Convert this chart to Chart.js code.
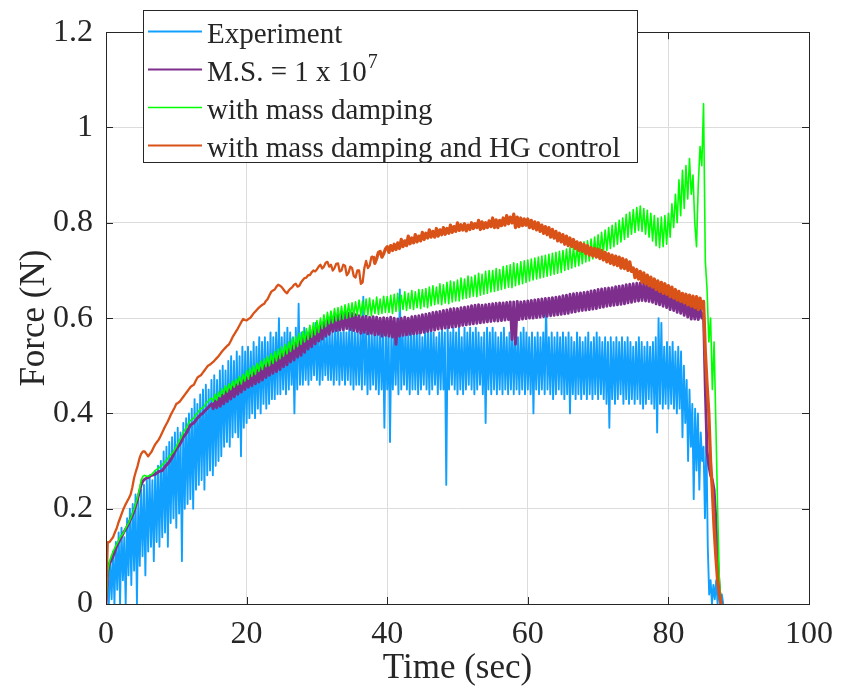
<!DOCTYPE html>
<html>
<head>
<meta charset="utf-8">
<title>Force (N) vs Time (sec)</title>
<script src="https://cdn.jsdelivr.net/npm/chart.js@4.4.0/dist/chart.umd.min.js"></script>
<style>
  body { margin: 0; background: #fff; }
  canvas { display: block; }
</style>
</head>
<body>
<canvas id="forceChart" width="844" height="698"></canvas>
<script>
// sample spacing of each record (sec)
const expStep = 0.2;
const simStep = 0.25;

const seriesLabels = ['Experiment', 'M.S. = 1 x 10^7', 'with mass damping', 'with mass damping and HG control'];
const seriesColors = ['#12a0ff', '#7e2f8e', '#00ff00', '#d95319'];
const seriesWidths = [1.9, 2.9, 1.6, 2.3];

const xTicks = [0, 20, 40, 60, 80, 100];
const yTicks = [0, 0.2, 0.4, 0.6, 0.8, 1, 1.2];

// measured force, one row per 4 s
const experiment = [
  0.02, 0.05, 0.00, 0.09, 0.01, 0.11, 0.00, 0.13, 0.03, 0.15, 0.00, 0.16, 0.05, 0.14, 0.00, 0.18, 0.06, 0.20, 0.04, 0.21,
  0.07, 0.23, 0.00, 0.22, 0.08, 0.24, 0.10, 0.25, 0.06, 0.26, 0.11, 0.27, 0.12, 0.26, 0.09, 0.28, 0.13, 0.29, 0.12, 0.30,
  0.14, 0.32, 0.15, 0.33, 0.12, 0.34, 0.17, 0.35, 0.18, 0.36, 0.16, 0.37, 0.19, 0.36, 0.09, 0.38, 0.20, 0.39, 0.21, 0.40,
  0.22, 0.41, 0.20, 0.43, 0.24, 0.42, 0.25, 0.44, 0.26, 0.45, 0.24, 0.46, 0.27, 0.45, 0.28, 0.47, 0.27, 0.48, 0.29, 0.47,
  0.30, 0.49, 0.31, 0.50, 0.33, 0.49, 0.34, 0.51, 0.33, 0.52, 0.35, 0.51, 0.36, 0.53, 0.35, 0.52, 0.31, 0.54, 0.37, 0.53,
  0.38, 0.54, 0.39, 0.53, 0.40, 0.55, 0.39, 0.54, 0.41, 0.56, 0.40, 0.55, 0.42, 0.56, 0.41, 0.55, 0.42, 0.57, 0.43, 0.56,
  0.43, 0.57, 0.44, 0.60, 0.44, 0.56, 0.45, 0.57, 0.44, 0.58, 0.45, 0.57, 0.46, 0.56, 0.40, 0.58, 0.45, 0.63, 0.46, 0.57,
  0.46, 0.58, 0.47, 0.57, 0.46, 0.58, 0.47, 0.57, 0.48, 0.59, 0.47, 0.58, 0.46, 0.57, 0.47, 0.58, 0.48, 0.57, 0.47, 0.58,
  0.47, 0.57, 0.46, 0.58, 0.47, 0.59, 0.46, 0.57, 0.47, 0.58, 0.46, 0.57, 0.47, 0.58, 0.46, 0.59, 0.45, 0.57, 0.46, 0.58,
  0.46, 0.57, 0.45, 0.645, 0.46, 0.57, 0.44, 0.58, 0.45, 0.57, 0.46, 0.58, 0.45, 0.57, 0.44, 0.58, 0.45, 0.57, 0.37, 0.58,
  0.45, 0.57, 0.34, 0.58, 0.45, 0.57, 0.46, 0.58, 0.44, 0.66, 0.45, 0.57, 0.46, 0.58, 0.45, 0.57, 0.44, 0.58, 0.45, 0.57,
  0.45, 0.58, 0.44, 0.57, 0.45, 0.56, 0.46, 0.58, 0.45, 0.57, 0.44, 0.58, 0.45, 0.57, 0.46, 0.56, 0.44, 0.57, 0.45, 0.58,
  0.45, 0.57, 0.25, 0.58, 0.45, 0.57, 0.46, 0.58, 0.45, 0.57, 0.44, 0.58, 0.45, 0.56, 0.44, 0.58, 0.45, 0.57, 0.46, 0.58,
  0.45, 0.57, 0.44, 0.58, 0.45, 0.57, 0.46, 0.56, 0.44, 0.57, 0.38, 0.58, 0.45, 0.57, 0.44, 0.58, 0.45, 0.57, 0.44, 0.56,
  0.45, 0.57, 0.44, 0.58, 0.45, 0.56, 0.44, 0.57, 0.45, 0.58, 0.44, 0.57, 0.45, 0.56, 0.44, 0.57, 0.45, 0.58, 0.44, 0.57,
  0.45, 0.56, 0.44, 0.57, 0.40, 0.56, 0.45, 0.57, 0.44, 0.56, 0.45, 0.57, 0.44, 0.63, 0.45, 0.56, 0.44, 0.57, 0.43, 0.56,
  0.44, 0.57, 0.45, 0.56, 0.44, 0.57, 0.43, 0.56, 0.44, 0.57, 0.40, 0.56, 0.44, 0.55, 0.43, 0.57, 0.44, 0.56, 0.43, 0.55,
  0.44, 0.56, 0.43, 0.57, 0.44, 0.55, 0.43, 0.56, 0.44, 0.57, 0.43, 0.56, 0.44, 0.55, 0.43, 0.56, 0.42, 0.55, 0.37, 0.56,
  0.43, 0.55, 0.42, 0.56, 0.43, 0.55, 0.44, 0.56, 0.42, 0.55, 0.43, 0.56, 0.42, 0.55, 0.43, 0.54, 0.42, 0.55, 0.43, 0.56,
  0.42, 0.55, 0.41, 0.54, 0.42, 0.55, 0.43, 0.54, 0.42, 0.55, 0.41, 0.56, 0.36, 0.60, 0.42, 0.59, 0.41, 0.54, 0.42, 0.55,
  0.41, 0.54, 0.42, 0.55, 0.41, 0.53, 0.40, 0.54, 0.41, 0.53, 0.35, 0.50, 0.38, 0.47, 0.30, 0.45, 0.33, 0.42, 0.22, 0.41,
  0.28, 0.40, 0.24, 0.36, 0.30, 0.33, 0.18, 0.35, 0.12, 0.02, 0.05, 0.00, 0.04, 0.01, 0.05, 0.00, 0.03, 0.00, 0.02, 0.00
];

// M.S. = 1e7, one row per 5 s
const massScaling = [
  0.00, 0.07, 0.085, 0.092, 0.10, 0.11, 0.12, 0.128, 0.135, 0.142, 0.15, 0.156, 0.162, 0.17, 0.178, 0.186, 0.195, 0.208, 0.22, 0.235,
  0.25, 0.258, 0.262, 0.264, 0.265, 0.268, 0.27, 0.271, 0.272, 0.275, 0.278, 0.279, 0.28, 0.285, 0.29, 0.294, 0.298, 0.304, 0.31, 0.318,
  0.325, 0.33, 0.335, 0.342, 0.35, 0.355, 0.36, 0.368, 0.375, 0.378, 0.38, 0.385, 0.39, 0.394, 0.398, 0.40, 0.405, 0.408, 0.412, 0.416,
  0.42, 0.41, 0.426, 0.412, 0.432, 0.415, 0.438, 0.42, 0.445, 0.425, 0.45, 0.43, 0.455, 0.435, 0.46, 0.44, 0.465, 0.445, 0.47, 0.45,
  0.475, 0.455, 0.48, 0.458, 0.485, 0.462, 0.49, 0.466, 0.495, 0.47, 0.50, 0.475, 0.505, 0.48, 0.51, 0.484, 0.515, 0.488, 0.52, 0.492,
  0.525, 0.498, 0.53, 0.502, 0.535, 0.508, 0.542, 0.512, 0.548, 0.518, 0.552, 0.522, 0.558, 0.528, 0.564, 0.535, 0.57, 0.54, 0.575, 0.546,
  0.58, 0.552, 0.586, 0.556, 0.592, 0.562, 0.598, 0.566, 0.602, 0.572, 0.605, 0.574, 0.607, 0.575, 0.61, 0.576, 0.612, 0.578, 0.61, 0.576,
  0.61, 0.574, 0.607, 0.572, 0.605, 0.568, 0.603, 0.57, 0.604, 0.567, 0.602, 0.568, 0.603, 0.565, 0.602, 0.566, 0.60, 0.562, 0.601, 0.564,
  0.60, 0.562, 0.602, 0.56, 0.60, 0.545, 0.598, 0.562, 0.60, 0.564, 0.602, 0.565, 0.60, 0.566, 0.603, 0.567, 0.604, 0.568, 0.605, 0.569,
  0.607, 0.57, 0.608, 0.572, 0.61, 0.574, 0.612, 0.575, 0.613, 0.577, 0.614, 0.578, 0.616, 0.579, 0.617, 0.58, 0.619, 0.581, 0.62, 0.582,
  0.62, 0.583, 0.622, 0.585, 0.623, 0.586, 0.624, 0.587, 0.626, 0.588, 0.627, 0.589, 0.628, 0.59, 0.627, 0.591, 0.628, 0.592, 0.629, 0.593,
  0.63, 0.594, 0.631, 0.594, 0.632, 0.595, 0.632, 0.596, 0.633, 0.597, 0.634, 0.555, 0.634, 0.545, 0.635, 0.597, 0.634, 0.598, 0.635, 0.599,
  0.636, 0.60, 0.637, 0.60, 0.638, 0.601, 0.639, 0.602, 0.64, 0.603, 0.641, 0.604, 0.642, 0.605, 0.643, 0.606, 0.644, 0.607, 0.645, 0.608,
  0.647, 0.609, 0.648, 0.61, 0.65, 0.612, 0.651, 0.613, 0.652, 0.615, 0.653, 0.616, 0.654, 0.617, 0.655, 0.618, 0.657, 0.619, 0.658, 0.62,
  0.66, 0.622, 0.661, 0.623, 0.662, 0.625, 0.663, 0.626, 0.664, 0.627, 0.666, 0.628, 0.667, 0.629, 0.668, 0.63, 0.67, 0.632, 0.671, 0.633,
  0.672, 0.635, 0.673, 0.636, 0.674, 0.637, 0.673, 0.636, 0.672, 0.635, 0.67, 0.633, 0.667, 0.63, 0.665, 0.628, 0.662, 0.625, 0.66, 0.622,
  0.655, 0.618, 0.652, 0.616, 0.648, 0.612, 0.645, 0.61, 0.642, 0.606, 0.638, 0.602, 0.634, 0.598, 0.63, 0.598, 0.627, 0.597, 0.62, 0.60,
  0.61, 0.45, 0.32, 0.29, 0.27, 0.26, 0.24, 0.18, 0.09, 0.03, 0.00
];

// with mass damping, one row per 5 s
const massDamping = [
  0.00, 0.07, 0.09, 0.10, 0.11, 0.118, 0.125, 0.132, 0.14, 0.145, 0.15, 0.158, 0.165, 0.172, 0.18, 0.19, 0.20, 0.212, 0.225, 0.24,
  0.26, 0.268, 0.27, 0.268, 0.268, 0.27, 0.272, 0.276, 0.28, 0.283, 0.285, 0.289, 0.292, 0.296, 0.30, 0.305, 0.31, 0.314, 0.318, 0.324,
  0.33, 0.338, 0.345, 0.352, 0.36, 0.366, 0.372, 0.38, 0.385, 0.388, 0.39, 0.398, 0.40, 0.406, 0.41, 0.412, 0.415, 0.422, 0.425, 0.43,
  0.432, 0.425, 0.44, 0.428, 0.445, 0.435, 0.452, 0.44, 0.458, 0.445, 0.462, 0.45, 0.468, 0.455, 0.472, 0.46, 0.478, 0.462, 0.482, 0.468,
  0.49, 0.472, 0.495, 0.478, 0.50, 0.482, 0.505, 0.488, 0.51, 0.492, 0.515, 0.498, 0.52, 0.50, 0.525, 0.505, 0.53, 0.51, 0.535, 0.515,
  0.54, 0.52, 0.545, 0.525, 0.55, 0.53, 0.558, 0.535, 0.562, 0.54, 0.568, 0.545, 0.572, 0.55, 0.578, 0.555, 0.585, 0.56, 0.59, 0.565,
  0.595, 0.57, 0.60, 0.578, 0.607, 0.582, 0.612, 0.588, 0.615, 0.59, 0.62, 0.594, 0.622, 0.596, 0.625, 0.598, 0.628, 0.60, 0.63, 0.602,
  0.632, 0.604, 0.634, 0.606, 0.638, 0.605, 0.636, 0.608, 0.64, 0.606, 0.642, 0.605, 0.638, 0.61, 0.644, 0.608, 0.64, 0.61, 0.646, 0.612,
  0.645, 0.612, 0.648, 0.61, 0.65, 0.614, 0.652, 0.615, 0.648, 0.618, 0.655, 0.616, 0.652, 0.62, 0.658, 0.618, 0.655, 0.622, 0.66, 0.62,
  0.66, 0.624, 0.662, 0.622, 0.665, 0.626, 0.668, 0.628, 0.665, 0.63, 0.672, 0.628, 0.67, 0.632, 0.675, 0.63, 0.678, 0.634, 0.676, 0.636,
  0.68, 0.636, 0.684, 0.64, 0.682, 0.642, 0.688, 0.644, 0.686, 0.646, 0.69, 0.645, 0.694, 0.648, 0.692, 0.65, 0.698, 0.652, 0.70, 0.655,
  0.70, 0.656, 0.704, 0.658, 0.702, 0.66, 0.708, 0.662, 0.71, 0.665, 0.712, 0.664, 0.716, 0.668, 0.714, 0.67, 0.718, 0.672, 0.72, 0.675,
  0.722, 0.678, 0.724, 0.68, 0.726, 0.682, 0.728, 0.684, 0.73, 0.686, 0.732, 0.688, 0.734, 0.69, 0.736, 0.692, 0.738, 0.694, 0.74, 0.696,
  0.742, 0.70, 0.745, 0.702, 0.748, 0.705, 0.75, 0.708, 0.752, 0.71, 0.756, 0.714, 0.76, 0.718, 0.762, 0.72, 0.766, 0.724, 0.77, 0.728,
  0.775, 0.732, 0.78, 0.736, 0.785, 0.742, 0.79, 0.746, 0.795, 0.75, 0.80, 0.755, 0.805, 0.76, 0.81, 0.765, 0.818, 0.77, 0.822, 0.776,
  0.828, 0.78, 0.832, 0.784, 0.835, 0.782, 0.83, 0.776, 0.826, 0.77, 0.82, 0.762, 0.815, 0.752, 0.81, 0.748, 0.812, 0.75, 0.815, 0.755,
  0.82, 0.77, 0.84, 0.79, 0.86, 0.80, 0.89, 0.815, 0.91, 0.83, 0.92, 0.85, 0.935, 0.86, 0.90, 0.80, 0.75, 0.88, 0.96, 0.92,
  1.05, 0.72, 0.66, 0.55, 0.60, 0.45, 0.55, 0.38, 0.20, 0.05, 0.00
];

// with mass damping and HG control, one row per 5 s
const hgControl = [
  0.00, 0.13, 0.13, 0.135, 0.14, 0.15, 0.158, 0.17, 0.18, 0.19, 0.20, 0.208, 0.215, 0.222, 0.23, 0.245, 0.265, 0.278, 0.29, 0.305,
  0.315, 0.32, 0.32, 0.315, 0.31, 0.315, 0.32, 0.328, 0.335, 0.34, 0.345, 0.352, 0.36, 0.368, 0.375, 0.382, 0.39, 0.398, 0.405, 0.412,
  0.42, 0.422, 0.425, 0.43, 0.435, 0.44, 0.445, 0.45, 0.455, 0.458, 0.46, 0.468, 0.475, 0.478, 0.48, 0.485, 0.49, 0.495, 0.50, 0.502,
  0.505, 0.508, 0.512, 0.516, 0.52, 0.525, 0.53, 0.534, 0.538, 0.542, 0.545, 0.552, 0.56, 0.566, 0.572, 0.578, 0.585, 0.592, 0.598, 0.596,
  0.595, 0.598, 0.60, 0.605, 0.61, 0.614, 0.618, 0.622, 0.625, 0.628, 0.63, 0.636, 0.64, 0.648, 0.655, 0.658, 0.66, 0.666, 0.67, 0.668,
  0.665, 0.66, 0.655, 0.652, 0.658, 0.662, 0.665, 0.67, 0.672, 0.666, 0.668, 0.675, 0.68, 0.684, 0.685, 0.69, 0.69, 0.696, 0.70, 0.698,
  0.702, 0.708, 0.712, 0.704, 0.708, 0.716, 0.718, 0.708, 0.712, 0.70, 0.705, 0.714, 0.715, 0.698, 0.70, 0.712, 0.71, 0.69, 0.695, 0.708,
  0.705, 0.688, 0.685, 0.70, 0.70, 0.672, 0.675, 0.705, 0.72, 0.705, 0.71, 0.728, 0.73, 0.715, 0.725, 0.738, 0.74, 0.728, 0.735, 0.745,
  0.75, 0.738, 0.752, 0.742, 0.755, 0.744, 0.758, 0.746, 0.765, 0.75, 0.762, 0.752, 0.772, 0.756, 0.768, 0.758, 0.775, 0.76, 0.772, 0.762,
  0.78, 0.765, 0.778, 0.768, 0.785, 0.77, 0.782, 0.77, 0.788, 0.772, 0.785, 0.775, 0.79, 0.776, 0.788, 0.778, 0.795, 0.78, 0.792, 0.782,
  0.80, 0.784, 0.796, 0.785, 0.798, 0.783, 0.795, 0.786, 0.80, 0.788, 0.798, 0.79, 0.805, 0.786, 0.802, 0.788, 0.80, 0.79, 0.804, 0.792,
  0.81, 0.79, 0.806, 0.79, 0.805, 0.794, 0.81, 0.795, 0.815, 0.798, 0.812, 0.80, 0.818, 0.79, 0.812, 0.792, 0.81, 0.794, 0.808, 0.795,
  0.808, 0.79, 0.805, 0.788, 0.802, 0.785, 0.80, 0.782, 0.795, 0.778, 0.792, 0.775, 0.79, 0.77, 0.786, 0.768, 0.782, 0.762, 0.778, 0.76,
  0.775, 0.755, 0.772, 0.752, 0.768, 0.75, 0.765, 0.746, 0.76, 0.742, 0.758, 0.74, 0.755, 0.735, 0.752, 0.732, 0.748, 0.73, 0.746, 0.728,
  0.745, 0.725, 0.742, 0.722, 0.738, 0.718, 0.735, 0.715, 0.732, 0.712, 0.73, 0.71, 0.728, 0.705, 0.725, 0.704, 0.722, 0.70, 0.718, 0.698,
  0.705, 0.685, 0.702, 0.682, 0.698, 0.675, 0.695, 0.672, 0.69, 0.668, 0.686, 0.665, 0.682, 0.66, 0.678, 0.656, 0.675, 0.652, 0.672, 0.65,
  0.668, 0.645, 0.665, 0.642, 0.66, 0.638, 0.656, 0.635, 0.652, 0.632, 0.65, 0.628, 0.648, 0.625, 0.646, 0.622, 0.645, 0.618, 0.642, 0.62,
  0.635, 0.53, 0.46, 0.40, 0.30, 0.24, 0.16, 0.10, 0.05, 0.02, 0.00
];

const serif = '"Liberation Serif", "Times New Roman", serif';
const ink = '#262626';
const tickLen = 7;

function toPoints(values, step) {
  return values.map(function (v, i) {
    return { x: Math.round(i * step * 100) / 100, y: v };
  });
}

// box, inward ticks, legend and axis titles
const axesBox = {
  id: 'axesBox',
  afterDatasetsDraw: function (chart) {
    const ctx = chart.ctx;
    const a = chart.chartArea;
    const xs = chart.scales.x;
    const ys = chart.scales.y;
    ctx.save();
    ctx.strokeStyle = ink;
    ctx.lineWidth = 1;
    ctx.beginPath();
    xTicks.forEach(function (v) {
      const px = Math.round(xs.getPixelForValue(v)) + 0.5;
      ctx.moveTo(px, a.bottom); ctx.lineTo(px, a.bottom - tickLen);
      ctx.moveTo(px, a.top); ctx.lineTo(px, a.top + tickLen);
    });
    yTicks.forEach(function (v) {
      const py = Math.round(ys.getPixelForValue(v)) + 0.5;
      ctx.moveTo(a.left, py); ctx.lineTo(a.left + tickLen, py);
      ctx.moveTo(a.right, py); ctx.lineTo(a.right - tickLen, py);
    });
    ctx.stroke();
    ctx.strokeRect(Math.round(a.left) + 0.5, Math.round(a.top) + 0.5,
      Math.round(a.right - a.left), Math.round(a.bottom - a.top));

    // legend
    const box = { left: 143, top: 10, right: 637, bottom: 162 };
    const rows = [31, 69, 107, 145];
    ctx.fillStyle = '#fff';
    ctx.fillRect(box.left, box.top, box.right - box.left, box.bottom - box.top);
    ctx.strokeRect(box.left + 0.5, box.top + 0.5, box.right - box.left, box.bottom - box.top);
    ctx.textBaseline = 'alphabetic';
    ctx.textAlign = 'left';
    seriesLabels.forEach(function (label, i) {
      const y = rows[i];
      ctx.strokeStyle = seriesColors[i];
      ctx.lineWidth = Math.min(seriesWidths[i], 2);
      ctx.beginPath();
      ctx.moveTo(148, y + 0.5);
      ctx.lineTo(202, y + 0.5);
      ctx.stroke();
      const parts = label.split('^');
      const base = y + 12;
      ctx.fillStyle = ink;
      ctx.font = '29px ' + serif;
      ctx.fillText(parts[0], 207, base);
      if (parts[1]) {
        const w = ctx.measureText(parts[0]).width;
        ctx.font = '20px ' + serif;
        ctx.fillText(parts[1], 207 + w + 1, base - 13);
      }
    });
    ctx.restore();
  },
  afterDraw: function (chart) {
    const ctx = chart.ctx;
    const a = chart.chartArea;
    ctx.save();
    ctx.fillStyle = ink;
    ctx.font = '35px ' + serif;
    ctx.textAlign = 'center';
    ctx.textBaseline = 'middle';
    ctx.fillText('Time (sec)', (a.left + a.right) / 2, 669);
    ctx.translate(35, (a.top + a.bottom) / 2);
    ctx.rotate(-Math.PI / 2);
    ctx.fillText('Force (N)', 0, 0);
    ctx.restore();
  }
};

const records = [
  { values: experiment, step: expStep, order: 4 },
  { values: massScaling, step: simStep, order: 3 },
  { values: massDamping, step: simStep, order: 2 },
  { values: hgControl, step: simStep, order: 1 }
];

function plainLabel(v) {
  return String(v);
}

// the HG control trace gets fuzzier (thicker) once it passes ~38 s
function hgWidth(seg) {
  return seg.p0.parsed.x >= 38 ? 3.3 : seriesWidths[3];
}

const forceChart = new Chart(document.getElementById('forceChart'), {
  type: 'line',
  data: {
    datasets: records.map(function (r, i) {
      const ds = {
        label: seriesLabels[i],
        data: toPoints(r.values, r.step),
        borderColor: seriesColors[i],
        borderWidth: seriesWidths[i],
        borderJoinStyle: 'round',
        pointRadius: 0,
        tension: 0,
        fill: false,
        order: r.order
      };
      if (i === 3) ds.segment = { borderWidth: hgWidth };
      return ds;
    })
  },
  options: {
    responsive: false,
    animation: false,
    events: [],
    layout: { padding: { left: 0, top: 28, right: 29, bottom: 0 } },
    plugins: {
      legend: { display: false },
      tooltip: { enabled: false }
    },
    scales: {
      x: {
        type: 'linear',
        min: 0,
        max: 100,
        afterBuildTicks: function (s) { s.ticks = xTicks.map(function (v) { return { value: v }; }); },
        afterFit: function (s) { s.height = 94; },
        grid: { color: '#dcdcdc', drawTicks: false },
        border: { display: false },
        ticks: { color: ink, padding: 11, maxRotation: 0, callback: plainLabel, font: { family: serif, size: 32 } }
      },
      y: {
        type: 'linear',
        min: 0,
        max: 1.2,
        afterBuildTicks: function (s) { s.ticks = yTicks.map(function (v) { return { value: v }; }); },
        afterFit: function (s) { s.width = 106; },
        grid: { color: '#dcdcdc', drawTicks: false },
        border: { display: false },
        ticks: { color: ink, padding: 13, callback: plainLabel, font: { family: serif, size: 32 } }
      }
    }
  },
  plugins: [axesBox]
});
</script>
</body>
</html>
